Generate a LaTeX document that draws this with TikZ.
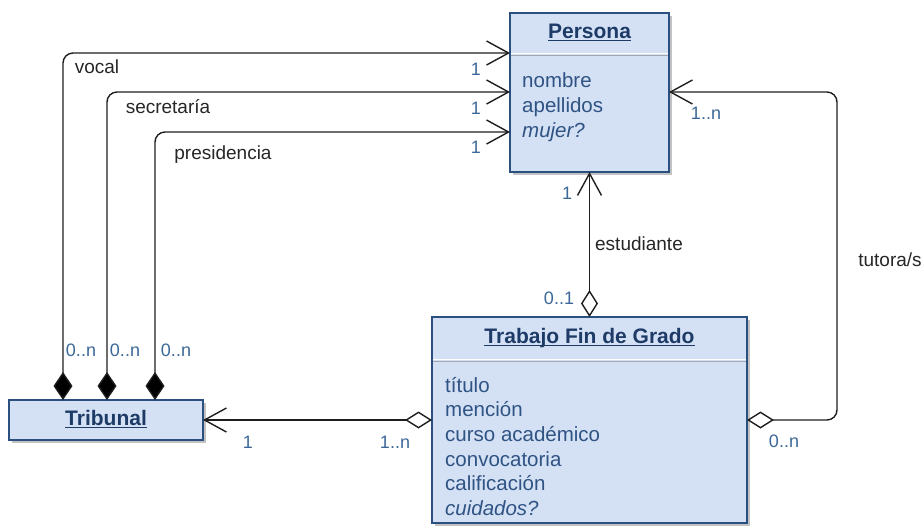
\documentclass[tikz,border=0pt]{standalone}
\usepackage{fontspec}
\setmainfont{Liberation Sans}
\usetikzlibrary{arrows.meta,shadows}
\definecolor{boxfill}{HTML}{D4E1F5}
\definecolor{boxline}{HTML}{2B4F7F}
\definecolor{titletext}{HTML}{1D3B66}
\definecolor{attrtext}{HTML}{2F5383}
\definecolor{multtext}{HTML}{3B6898}
\definecolor{linecol}{HTML}{1E1E1E}
\definecolor{sepcol}{HTML}{A3A8B0}
\newcommand{\myul}[1]{\setbox0\hbox{#1}\rlap{\rule[-3pt]{\wd0}{1.4pt}}\box0}
\tikzset{
  classbox/.style={draw=boxline, fill=boxfill, line width=1.3pt, inner sep=0pt, outer sep=0pt,
    drop shadow={shadow xshift=3pt, shadow yshift=-3pt, fill=black!40, opacity=0.6}},
  sepline/.style={draw=sepcol, line width=1.6pt},
  sepwhite/.style={draw=white, line width=1.4pt},
  ctitle/.style={font=\fontsize{21}{25}\selectfont\bfseries, text=titletext, anchor=base, inner sep=0pt},
  attr/.style={font=\fontsize{20.5}{25}\selectfont, text=attrtext, anchor=base west, inner sep=0pt},
  lab/.style={font=\fontsize{19}{22}\selectfont, text=black!85, inner sep=0pt},
  mult/.style={font=\fontsize{18}{21}\selectfont, text=multtext, inner sep=0pt},
  conn/.style={draw=linecol, line width=1.4pt, rounded corners=10pt},
  openarr/.tip={Straight Barb[length=22pt,width=24pt]},
  fdia/.tip={Diamond[length=28pt,width=19pt,fill=black]},
  odia/.tip={Diamond[open,length=27pt,width=17pt,fill=white]},
}
\begin{document}
\begin{tikzpicture}[x=1pt,y=-1pt]
\useasboundingbox (0,0) rectangle (924,525);
% boxes
\node[classbox, minimum width=159pt, minimum height=159pt] (persona) at (589.5,92.5) {};
\node[classbox, minimum width=194pt, minimum height=40pt] (tribunal) at (106,420) {};
\node[classbox, minimum width=315pt, minimum height=206pt] (tfg) at (589.5,420) {};
\draw[sepwhite] ([xshift=0.7pt]persona.west |- 0,53.5) -- ([xshift=-0.7pt]persona.east |- 0,53.5);
\draw[sepline] ([xshift=0.7pt]persona.west |- 0,55.5) -- ([xshift=-0.7pt]persona.east |- 0,55.5);
\draw[sepwhite] ([xshift=0.7pt]tfg.west |- 0,359.5) -- ([xshift=-0.7pt]tfg.east |- 0,359.5);
\draw[sepline] ([xshift=0.7pt]tfg.west |- 0,361.5) -- ([xshift=-0.7pt]tfg.east |- 0,361.5);
% texts
\node[ctitle] (personaT) at (589.5,38) {\myul{Persona}};
\node[attr] (nombre) at (522,87) {nombre};
\node[attr] (apellidos) at (522,112) {apellidos};
\node[attr] (mujer) at (522,137) {\itshape mujer?};
\node[ctitle] (tribunalT) at (106,425) {\myul{Tribunal}};
\node[ctitle] (tfgT) at (589.5,343) {\myul{Trabajo Fin de Grado}};
\node[attr] (titulo) at (445,392) {título};
\node[attr] (mencion) at (445,416) {mención};
\node[attr] (curso) at (445,441) {curso académico};
\node[attr] (convoc) at (445,466) {convocatoria};
\node[attr] (calif) at (445,490) {calificación};
\node[attr] (cuid) at (445,515) {\itshape cuidados?};
% connectors
\draw[conn, {fdia}-{openarr}] (tribunal.north -| 63,0) |- (persona.west |- 0,53);
\draw[conn, {fdia}-{openarr}] (tribunal.north -| 107,0) |- (persona.west |- 0,92);
\draw[conn, {fdia}-{openarr}] (tribunal.north -| 155,0) |- (persona.west |- 0,132);
\draw[conn, {odia}-{openarr}] (tfg.north) -- (persona.south);
\draw[conn, {odia}-{openarr}] (tfg.west) -- (tribunal.east);
\draw[conn, {odia}-{openarr}] (tfg.east) -- (837,420) -- (837,92) -- (persona.east |- 0,92);
% connector labels
\node[lab] (lvocal) at (97,67) {vocal};
\node[lab] (lsecr) at (168,107) {secretaría};
\node[lab] (lpres) at (223,155) {presidencia};
\node[lab] (lest) at (639,244) {estudiante};
\node[lab] (ltut) at (890,260) {tutora/s};
% multiplicities
\node[mult] (m1) at (476,69) {1};
\node[mult] (m2) at (476,108) {1};
\node[mult] (m3) at (476,147) {1};
\node[mult] (m4) at (81,350) {0..n};
\node[mult] (m5) at (125,350) {0..n};
\node[mult] (m6) at (176,350) {0..n};
\node[mult] (m7) at (567,193) {1};
\node[mult] (m8) at (559,298) {0..1};
\node[mult] (m9) at (706,113) {1..n};
\node[mult] (m10) at (784,441) {0..n};
\node[mult] (m11) at (248,442) {1};
\node[mult] (m12) at (395,442) {1..n};
\end{tikzpicture}
\end{document}
